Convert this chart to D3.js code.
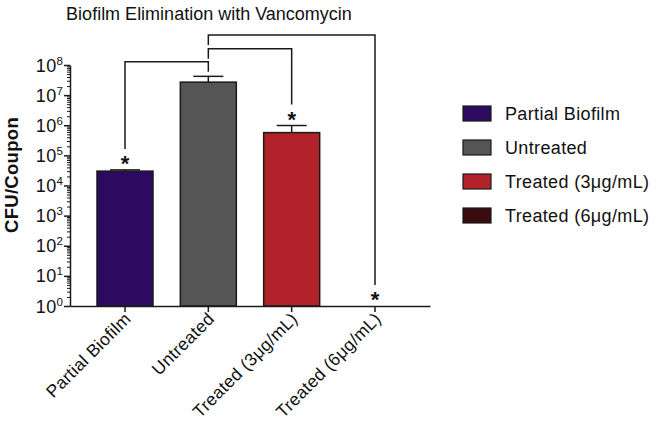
<!DOCTYPE html>
<html>
<head>
<meta charset="utf-8">
<script src="https://cdn.jsdelivr.net/npm/d3@7"></script>
<style>
  html, body { margin: 0; padding: 0; background: #ffffff; }
  svg { display: block; font-family: "Liberation Sans", Arial, Helvetica, sans-serif; }
</style>
</head>
<body>
<svg id="chart" width="656" height="425"></svg>
<script>
// ---- data ----
const categories = ["Partial Biofilm", "Untreated", "Treated (3μg/mL)", "Treated (6μg/mL)"];
const means = [3.0e4, 2.7e7, 5.7e5, 1];
const upperErr = [3.3e4, 4.2e7, 9.8e5, 1];
const colors = ["#2c0a5f", "#555555", "#b2222a", "#3a0c0f"];
const significant = [true, false, true, true];
const yExponents = [0, 1, 2, 3, 4, 5, 6, 7, 8];
const compFrom = ["Untreated", "Untreated", "Untreated"];
const compTo = ["Partial Biofilm", "Treated (3μg/mL)", "Treated (6μg/mL)"];
const compLevel = [1.28e8, 3.45e8, 1.0e9];
const titleText = "Biofilm Elimination with Vancomycin";
const yLabel = "CFU/Coupon";

// ---- layout ----
const svg = d3.select("#chart");
const plot = { left: 70, right: 430, top: 65, bottom: 306 };
const fontMain = 18;
const spacing = 0.35;

const x = d3.scaleBand().domain(categories).range([plot.left, plot.right])
  .paddingInner(0.328).paddingOuter(0.324);
const y = d3.scaleLog().domain([1, 1e8]).range([plot.bottom, plot.top]);

const ink = "#1a1a1a";

// title
svg.append("text")
  .attr("x", 209).attr("y", 20)
  .attr("text-anchor", "middle")
  .attr("font-size", 18)
  .attr("fill", "#111")
  .text(titleText);

// y label
svg.append("text")
  .attr("transform", `translate(18,175) rotate(-90)`)
  .attr("text-anchor", "middle")
  .attr("font-size", 18.5)
  .attr("font-weight", "bold")
  .attr("letter-spacing", 0.3)
  .attr("fill", "#111")
  .text(yLabel);

// bars
svg.append("g").selectAll("rect")
  .data(categories)
  .join("rect")
  .attr("x", d => x(d))
  .attr("width", x.bandwidth())
  .attr("y", (d, i) => y(means[i]))
  .attr("height", (d, i) => y(1) - y(means[i]))
  .attr("fill", (d, i) => colors[i])
  .attr("stroke", ink)
  .attr("stroke-width", 1.5);

// error bars
const eg = svg.append("g").attr("stroke", ink).attr("stroke-width", 1.5);
categories.forEach((c, i) => {
  if (upperErr[i] <= means[i]) return;
  const cx = x(c) + x.bandwidth() / 2;
  eg.append("line").attr("x1", cx).attr("x2", cx).attr("y1", y(means[i])).attr("y2", y(upperErr[i]));
  eg.append("line").attr("x1", cx - 15).attr("x2", cx + 15).attr("y1", y(upperErr[i])).attr("y2", y(upperErr[i]));
});

// y axis: minor ticks
const minors = [];
yExponents.slice(0, -1).forEach(e => { for (let k = 2; k <= 9; k++) minors.push(k * Math.pow(10, e)); });
svg.append("g")
  .attr("transform", `translate(${plot.left},0)`)
  .call(d3.axisLeft(y).tickValues(minors).tickSize(3).tickFormat(""))
  .call(g => g.select(".domain").remove())
  .call(g => g.selectAll("line").attr("stroke", ink).attr("stroke-width", 1));

// y axis: major ticks
const yAxisG = svg.append("g")
  .attr("transform", `translate(${plot.left},0)`)
  .call(d3.axisLeft(y).tickValues(yExponents.map(e => Math.pow(10, e))).tickSize(6).tickSizeOuter(0).tickFormat(""));
yAxisG.select(".domain").attr("stroke", ink).attr("stroke-width", 1.5);
yAxisG.selectAll("line").attr("stroke", ink).attr("stroke-width", 1.5);
yAxisG.selectAll(".tick text").remove();
yAxisG.selectAll(".tick").each(function(d) {
  const t = d3.select(this).append("text")
    .attr("x", -7).attr("y", 0).attr("dy", 6)
    .attr("text-anchor", "end")
    .attr("fill", "#111")
    .attr("font-size", fontMain);
  t.append("tspan").attr("letter-spacing", spacing).text("10");
  t.append("tspan").attr("font-size", 11.5).attr("dy", -7).text(String(Math.round(Math.log10(d))));
});

// x axis
const xAxisG = svg.append("g")
  .attr("transform", `translate(0,${plot.bottom})`)
  .call(d3.axisBottom(x).tickSize(6).tickSizeOuter(0));
xAxisG.select(".domain").attr("stroke", ink).attr("stroke-width", 1.5);
xAxisG.selectAll("line").attr("stroke", ink).attr("stroke-width", 1.5);
xAxisG.selectAll(".tick text")
  .attr("font-size", 17.5)
  .attr("letter-spacing", 0.3)
  .attr("fill", "#111")
  .attr("text-anchor", "end")
  .attr("dy", 0)
  .attr("x", 0).attr("y", 0)
  .attr("transform", "translate(7,14) rotate(-45)");

// stars + brackets
const starOffset = 11;   // px above error-bar top to star centre
const bracketGap = 10;   // px gap between star and bracket leg
const starY = i => y(upperErr[i]) - starOffset;
categories.forEach((c, i) => {
  if (!significant[i]) return;
  svg.append("text")
    .attr("x", x(c) + x.bandwidth() / 2)
    .attr("y", starY(i) + 12)
    .attr("text-anchor", "middle")
    .attr("font-size", 22)
    .attr("font-weight", "bold")
    .attr("fill", "#111")
    .text("*");
});

const bg = svg.append("g").attr("fill", "none").attr("stroke", ink).attr("stroke-width", 1.5);
compFrom.forEach((a, k) => {
  const ib = categories.indexOf(compTo[k]);
  const xa = x(a) + x.bandwidth() / 2, xb = x(compTo[k]) + x.bandwidth() / 2;
  const yl = y(compLevel[k]);
  bg.append("path").attr("d",
    `M${xa},${yl + bracketGap}V${yl}H${xb}V${starY(ib) - bracketGap}`);
});

// legend
const lg = svg.append("g").attr("transform", "translate(463,106)");
categories.forEach((c, i) => {
  const row = lg.append("g").attr("transform", `translate(0,${i * 34})`);
  row.append("rect").attr("width", 28).attr("height", 15)
    .attr("fill", colors[i]).attr("stroke", ink).attr("stroke-width", 1.2);
  row.append("text").attr("x", 42).attr("y", 13.5)
    .attr("font-size", fontMain).attr("letter-spacing", spacing)
    .attr("fill", "#111").text(c);
});
</script>
</body>
</html>
